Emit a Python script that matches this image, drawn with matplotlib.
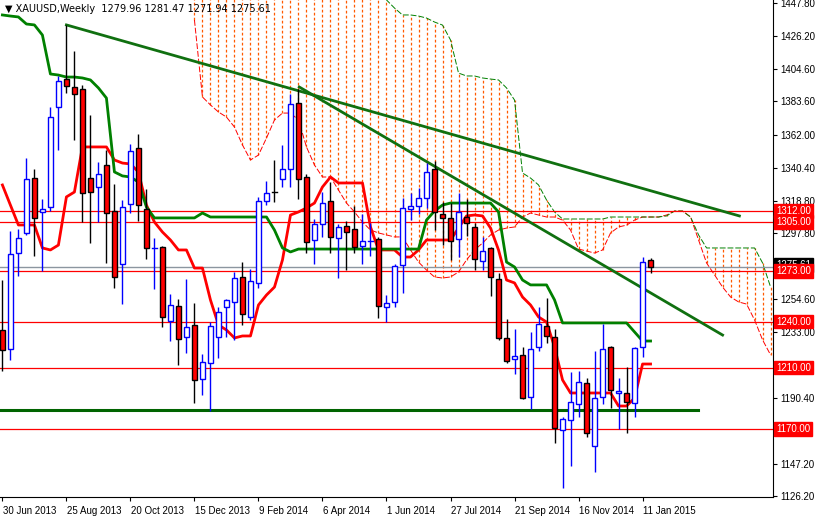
import matplotlib
matplotlib.use("Agg")
import matplotlib.pyplot as plt
from matplotlib.transforms import blended_transform_factory
import numpy as np

plt.rcParams['font.family'] = ['Liberation Sans', 'DejaVu Sans']

# ---- data (weekly candles, i=0 -> week of 30 Jun 2013) ----
opens = [1234.5,1222,1284.7,1297.8,1333.6,1311.5,1314.7,1380,1398,1393,
         1391.7,1333.6,1327.8,1342,1312,1277.5,1316.7,1353.2,1313.5,1288,
         1288.6,1240.4,1250.2,1229.9,1237.8,1202.5,1212.9,1230,1249.3,1252.8,
         1269,1243,1265,1318.6,1324.5,1333,1339.5,1382.6,1334.3,1293,
         1303.6,1318.6,1294.5,1302.3,1300.4,1289.3,1292.5,1293.8,1249.5,1252.8,
         1276.9,1313.4,1315.4,1320.6,1339.5,1310.2,1307.6,1293.8,1308.2,1301.7,
         1279.5,1288,1267.8,1229.3,1215.6,1218.2,1190.8,1223.4,1237,1230,
         1169.3,1175.8,1186.3,1200,1158.8,1190.8,1223.4,1193.4,1193.4,1187,
         1223.4,1279.96]
highs = [1267,1299,1300.4,1346.7,1339.5,1320,1380,1400,1433.5,1416.5,
         1394,1375,1344,1352,1330,1319.3,1355.8,1362.3,1326.5,1294.5,
         1289,1258,1255,1267.8,1252,1218.8,1239.7,1249.5,1255,1272,
         1279,1274,1321,1331.7,1345.4,1355,1388.5,1392,1336,1307,
         1324.5,1331,1303.6,1305.6,1315.4,1310,1304,1295,1257.3,1277.6,
         1320.6,1323.9,1327,1343.5,1345,1318,1317.3,1323.9,1320,1304.3,
         1295,1288.6,1271.7,1241.7,1235.2,1223.4,1233,1249.5,1255.4,1235.2,
         1177.8,1207,1207.8,1203.3,1220.8,1238.4,1224,1203.3,1210.3,1223.4,
         1282,1281.47]
lows = [1208,1215,1269.7,1296.5,1282.8,1273,1312,1352,1389,1358.5,
        1305,1291,1305,1278,1262,1251.5,1310.8,1305.6,1280.8,1261,
        1236.5,1227.3,1211.6,1219.5,1186.9,1192,1181.7,1216,1230,1228,
        1238,1241,1262,1316,1318,1328,1328,1320,1285,1277.6,
        1295,1285,1268.4,1273.6,1285,1277.6,1283,1242.3,1239.7,1249.5,
        1258.6,1306.3,1310,1314,1300,1290,1280,1282,1296,1273.6,
        1273.6,1256.7,1228,1213,1205.8,1189.5,1183,1220.8,1226,1160.8,
        1131.4,1145.8,1177.8,1164.7,1141.9,1186.3,1183.6,1169.9,1167.3,1177.8,
        1216.9,1271.94]
closes = [1221.5,1284,1294.5,1333,1307.6,1313.5,1373.4,1397,1393.7,1388.5,
          1323.9,1324.5,1336.3,1310.8,1269,1314.7,1351.3,1316,1288,1288,
          1243,1250.8,1228.6,1236.5,1201.9,1213.6,1237,1246.4,1254,1268.4,
          1245,1266.5,1318.6,1323.9,1323.9,1339.5,1382,1333,1291.9,1303.6,
          1317.3,1295,1301.7,1298.4,1288.6,1292.5,1292.5,1250,1252,1276.3,
          1314,1315.4,1320.6,1337.6,1311.5,1307.6,1292.5,1311.5,1304.3,1280.8,
          1286,1269,1229.3,1214.3,1217.6,1190.2,1222,1238.4,1230.6,1170.6,
          1176.5,1187.6,1200.7,1167.3,1190.2,1222.1,1195.4,1194.7,1187.6,1222.8,
          1278.8,1275.61]

tenkan = [1329.1,1316.0,1303.0,1303.0,1303.0,1288.0,1286.7,1289.9,1321.3,1324.5,
          1353.9,1353.9,1353.9,1353.9,1345.4,1343.4,1342.8,1337.6,1316.0,1304.9,
          1298.4,1293.2,1286.7,1286.7,1274.9,1274.9,1254.1,1237.8,1234.5,1229.3,
          1230.6,1230.6,1250.8,1257.3,1262.5,1280.2,1309.5,1311.5,1314.1,1317.3,
          1327.8,1334.3,1330.4,1330.4,1330.4,1330.4,1301.7,1286.7,1286.7,1286.7,
          1282.1,1282.1,1286.7,1293.2,1293.2,1293.2,1293.2,1301.0,1308.9,1309.5,
          1308.9,1301.0,1286.7,1267.1,1265.2,1256.0,1250.8,1243.0,1239.7,1223.4,
          1201.9,1193.4,1193.4,1193.4,1193.4,1193.4,1193.4,1184.9,1184.9,1190.1,
          1212.3,1212.3]
kijun = [1440.0,1439.3,1438.7,1434.1,1433.5,1426.9,1401.5,1400.8,1399.5,1399.5,
         1398.9,1397.6,1392.4,1385.8,1337.6,1335.0,1334.3,1331.0,1314.7,1307.6,
         1307.6,1307.6,1307.6,1307.6,1307.6,1310.8,1308.2,1308.2,1308.2,1308.2,
         1308.2,1308.2,1308.2,1308.2,1299.7,1288.0,1285.4,1287.3,1287.3,1287.3,
         1287.3,1287.3,1287.3,1287.3,1287.3,1287.3,1287.3,1287.3,1287.3,1287.3,
         1287.3,1287.3,1287.3,1306.2,1312.1,1316.0,1317.3,1317.3,1317.3,1317.3,
         1317.3,1317.3,1311.5,1278.8,1275.6,1267.1,1263.9,1263.9,1263.9,1254.1,
         1239.1,1239.1,1239.1,1239.1,1239.1,1239.1,1239.1,1239.1,1239.1,1233.2,
         1227.3,1227.3]
cloud_start = 24
span_a = [1436.7,1386.5,1381.3,1376.7,1373.4,1366.9,1355.2,1345.4,1348.6,1359.7,
          1371.5,1376.0,1376.0,1371.5,1353.9,1342.1,1334.3,1334.3,1325.8,1317.3,
          1311.5,1304.9,1299.7,1297.8,1296.5,1295.2,1295.2,1286.7,1278.8,1273.6,
          1269.1,1268.4,1269.1,1272.3,1280.2,1286.7,1291.2,1296.5,1299.7,1301.0,
          1301.7,1308.2,1310.8,1309.5,1308.2,1308.2,1306.2,1299.7,1287.3,1286.0,
          1284.7,1286.7,1297.8,1301.7,1302.9,1306.2,1308.2,1308.2,1308.2,1309.5,
          1312.1,1312.1,1308.2,1293.2,1278.2,1270.4,1262.5,1256.0,1252.8,1251.4,
          1241.0,1228.0,1218.2]
span_b = [1465]*24 + [1449.8,1444.5,1440.0,1440.0,1439.3,1438.0,1435.4,1433.4,1423.7,1402.1,
          1400.2,1400.2,1398.9,1398.2,1397.6,1392.4,1384.5,1336.9,1333.6,1329.1,
          1319.3,1311.5,1306.9,1306.9,1306.9,1306.9,1306.9,1306.9,1308.2,1308.2,
          1308.2,1308.2,1308.2,1308.2,1308.2,1308.9,1312.1,1312.1,1308.2,1296.5,
          1288.0,1288.0,1288.0,1288.0,1288.0,1288.0,1288.0,1278.2,1262.5]

levels = [1312.0, 1305.0, 1273.0, 1240.0, 1210.0, 1170.0]
current_price = 1275.61
support_level = 1182.3
support_end = 86.9
trend1 = [(8, 1433.5), (92.1, 1308.9)]
trend2 = [(37.1, 1393.0), (90.0, 1231.2)]
ytick_vals = [1447.80, 1426.20, 1404.60, 1383.60, 1362.00, 1340.40, 1318.80,
              1297.80, 1254.60, 1233.00, 1190.40, 1147.20, 1126.20]
xlabel_pos = [0, 8, 16, 24, 32, 40, 48, 56, 64, 72, 80]
xlabel_txt = ["30 Jun 2013", "25 Aug 2013", "20 Oct 2013", "15 Dec 2013", "9 Feb 2014",
              "6 Apr 2014", "1 Jun 2014", "27 Jul 2014", "21 Sep 2014", "16 Nov 2014",
              "11 Jan 2015"]
title = "XAUUSD,Weekly  1279.96 1281.47 1271.94 1275.61"

FS = 7

# ---- figure ----
fig = plt.figure(figsize=(8.15, 5.16), dpi=100)
ax = fig.add_axes([0, 19/516, 773/815, 497/516])
ax.set_xlim(-0.3, 96.3)
ax.set_ylim(1125.55, 1449.76)
ax.set_facecolor("white")

n = len(opens)
x = np.arange(n)
ci = np.arange(cloud_start, cloud_start + len(span_a))
orange = "#ff5a00"
ax.vlines(ci, span_a, span_b, colors=orange, linewidth=0.9, linestyles=(0, (2.2, 1.8)), zorder=1)
ax.plot(ci, span_a, color="red", linewidth=0.7, linestyle=(0, (6, 2)), zorder=2)
ax.plot(ci, span_b, color="green", linewidth=0.7, linestyle=(0, (6, 2)), zorder=2)

for lv in levels:
    ax.axhline(lv, color="red", linewidth=0.9, zorder=2)
ax.axhline(current_price, color="#8c96a0", linewidth=1.0, zorder=2)
ax.plot([-0.3, support_end], [support_level, support_level], color="#006400", linewidth=2.2, zorder=3)
for tl in (trend1, trend2):
    ax.plot([tl[0][0], tl[1][0]], [tl[0][1], tl[1][1]], color="#107010", linewidth=2.0, zorder=3)

ax.plot(x, tenkan, color="red", linewidth=2.0, zorder=4)
ax.plot(x, kijun, color="green", linewidth=2.0, zorder=4)

w = 0.6
for i in range(n):
    o, h, l, c = opens[i], highs[i], lows[i], closes[i]
    bull = c >= o
    wc = "blue" if bull else "black"
    ax.vlines(i, l, h, colors=wc, linewidth=1.0, zorder=5)
    lo, hi = min(o, c), max(o, c)
    if hi - lo < 0.8:
        ax.plot([i - w/2, i + w/2], [o, o], color=wc, linewidth=1.0, zorder=6)
    else:
        ax.add_patch(plt.Rectangle((i - w/2, lo), w, hi - lo,
                                   facecolor="white" if bull else "red",
                                   edgecolor=wc, linewidth=1.0, zorder=6))

for s in ("top", "left"):
    ax.spines[s].set_visible(False)
ax.spines["right"].set_color("black")
ax.spines["bottom"].set_color("black")
ax.yaxis.tick_right()
ax.set_yticks(ytick_vals)
ax.set_yticklabels([f"{v:.2f}" for v in ytick_vals], fontsize=FS)
ax.tick_params(axis="y", length=3, pad=2, colors="black")
ax.set_xticks(xlabel_pos)
ax.set_xticklabels([])
ax.tick_params(axis="x", length=3)
for p, t in zip(xlabel_pos, xlabel_txt):
    ax.text(p + 0.05, -0.018, t, transform=blended_transform_factory(ax.transData, ax.transAxes),
            ha="left", va="top", fontsize=FS)

tr = blended_transform_factory(ax.transAxes, ax.transData)
ax.text(1.004, current_price + 1.5, "1275.61", transform=tr, fontsize=FS, color="white",
        va="center", ha="left", clip_on=False,
        bbox=dict(boxstyle="square,pad=0.2", fc="black", ec="black"), zorder=9)
for lv in levels:
    ax.text(1.004, lv, f"{lv:.2f}", transform=tr, fontsize=FS, color="white",
            va="center", ha="left", clip_on=False,
            bbox=dict(boxstyle="square,pad=0.2", fc="red", ec="red"), zorder=10)

ax.text(0.006, 0.992, "\u25BC " + title, transform=ax.transAxes, fontsize=FS,
        va="top", ha="left", zorder=11, family=['DejaVu Sans'])

fig.savefig("out.png", dpi=100, facecolor="white")
